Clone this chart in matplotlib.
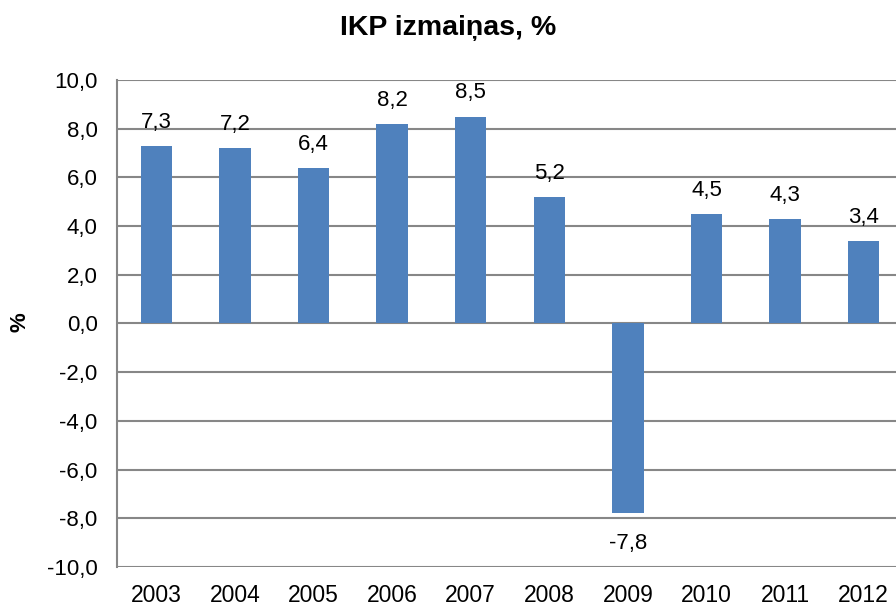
import matplotlib.pyplot as plt
import numpy as np

plt.rcParams['font.family'] = ['Liberation Sans', 'DejaVu Sans']

years = ["2003", "2004", "2005", "2006", "2007", "2008", "2009", "2010", "2011", "2012"]
gdp_change = [7.3, 7.2, 6.4, 8.2, 8.5, 5.2, -7.8, 4.5, 4.3, 3.4]
yticks = [-10, -8, -6, -4, -2, 0, 2, 4, 6, 8, 10]

bar_color = "#4F81BD"
grid_color = "#878787"

fig = plt.figure(figsize=(8.96, 6.06), dpi=100)
ax = fig.add_axes([0.1306, 0.0644, 0.8772, 0.8036])

x = np.arange(len(years))
ax.bar(x, gdp_change, width=0.4, color=bar_color, zorder=3)

# data labels above / below bars
for xi, v in zip(x, gdp_change):
    lbl = f"{v:.1f}".replace(".", ",")
    if v >= 0:
        ax.annotate(lbl, (xi, v), xytext=(0, 13), textcoords="offset points",
                    ha="center", va="baseline", fontsize=16)
    else:
        ax.annotate(lbl, (xi, v), xytext=(0, -14), textcoords="offset points",
                    ha="center", va="top", fontsize=16)

ax.set_xlim(-0.5, len(years) - 0.5)
ax.set_ylim(-10, 10)
ax.set_yticks(yticks)
ax.set_yticklabels([f"{t:.1f}".replace(".", ",") for t in yticks], fontsize=16)
ax.set_xticks(x)
ax.set_xticklabels(years, fontsize=16.5)
ax.tick_params(axis="y", length=0, pad=14)
ax.tick_params(axis="x", length=0, pad=12)

for t in yticks:
    ax.axhline(t, color=grid_color, lw=1.5, zorder=1)

for side in ["top", "right", "bottom"]:
    ax.spines[side].set_visible(False)
ax.spines["left"].set_color(grid_color)
ax.spines["left"].set_linewidth(1.5)

fig.text(20 / 896, 1 - 322 / 606, "%", rotation=90, ha="center", va="center",
         fontsize=16, fontweight="bold")
fig.text(0.5, 1 - 28 / 606, "IKP izmaiņas, %", ha="center", va="center",
         fontsize=20.5, fontweight="bold")

fig.savefig("out.png", dpi=100)
